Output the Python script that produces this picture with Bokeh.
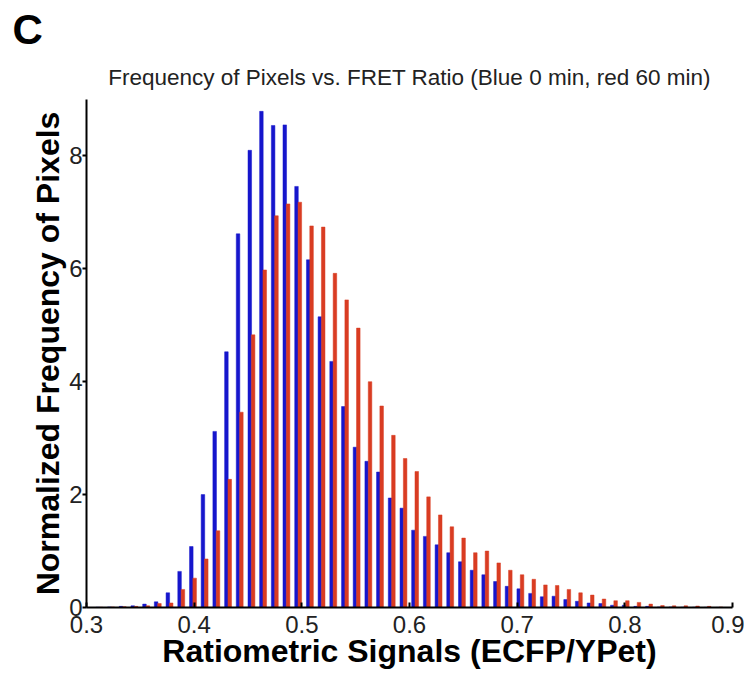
from bokeh.plotting import figure
from bokeh.models import Title, FixedTicker, NumeralTickFormatter
from bokeh.transform import dodge
from bokeh.embed import file_html
from bokeh.resources import INLINE
from bokeh.models import ColumnDataSource

# Bin centers (ECFP/YPet ratio)
bin_centers = [0.3119, 0.3228, 0.3336, 0.3445, 0.3554, 0.3662, 0.3771, 0.3880,
               0.3989, 0.4097, 0.4206, 0.4315, 0.4423, 0.4532, 0.4640, 0.4749,
               0.4857, 0.4966, 0.5075, 0.5183, 0.5292, 0.5401, 0.5509, 0.5618,
               0.5726, 0.5835, 0.5944, 0.6052, 0.6161, 0.6270, 0.6378, 0.6487,
               0.6596, 0.6704, 0.6813, 0.6921, 0.7030, 0.7139, 0.7247, 0.7356,
               0.7465, 0.7573, 0.7682, 0.7791, 0.7899, 0.8008, 0.8116, 0.8225,
               0.8334, 0.8442, 0.8551, 0.8660, 0.8768, 0.8877]

# Blue: 0 min
blue_0min = [0.005, 0.01, 0.02, 0.03, 0.06, 0.10, 0.26, 0.64,
             1.08, 2.00, 3.12, 4.53, 6.62, 8.10, 8.79, 8.54,
             8.55, 7.46, 6.16, 5.15, 4.36, 3.56, 2.84, 2.59,
             2.40, 1.94, 1.76, 1.37, 1.26, 1.11, 0.97, 0.81,
             0.66, 0.58, 0.46, 0.375, 0.33, 0.25, 0.19, 0.20,
             0.14, 0.11, 0.08, 0.07, 0.04, 0.04, 0.02, 0.02,
             0.01, 0.01, 0.005, 0.005, 0.003, 0.002]

# Red: 60 min
red_60min = [0.005, 0.01, 0.015, 0.02, 0.03, 0.07, 0.08, 0.32,
             0.52, 0.86, 1.36, 2.27, 3.46, 4.83, 5.98, 6.94,
             7.15, 7.18, 6.76, 6.74, 5.92, 5.45, 4.95, 4.00,
             3.57, 3.05, 2.64, 2.41, 1.96, 1.64, 1.43, 1.23,
             0.97, 1.00, 0.79, 0.66, 0.58, 0.50, 0.40, 0.39,
             0.32, 0.26, 0.22, 0.15, 0.12, 0.12, 0.09, 0.06,
             0.035, 0.03, 0.03, 0.025, 0.02, 0.01]

x_ticks = [0.3, 0.4, 0.5, 0.6, 0.7, 0.8, 0.9]
y_ticks = [0, 2, 4, 6, 8]

BLUE = "#1616cc"
RED = "#d93c22"
FONT = "Liberation Sans"

src = ColumnDataSource(dict(x=bin_centers, blue=blue_0min, red=red_60min))

p = figure(frame_width=646, frame_height=508,
           x_range=(0.3, 0.9), y_range=(0, 9),
           output_backend="svg", toolbar_location=None,
           min_border_left=86, min_border_right=12,
           min_border_top=99, min_border_bottom=5)

p.vbar(x=dodge('x', -0.00155), top='blue', width=0.0033, source=src,
       fill_color=BLUE, line_color=BLUE, line_width=0.5)
p.vbar(x=dodge('x', 0.00155), top='red', width=0.0033, source=src,
       fill_color=RED, line_color=RED, line_width=0.5)

# Outer title: panel letter
p.title.text = "C"
p.title.align = "left"
p.title.offset = -74
p.title.standoff = 0
p.title.text_font = FONT
p.title.text_font_size = "42px"
p.title.text_font_style = "bold"
p.title.text_color = "black"

# Inner title: chart title
main_title = Title(text="Frequency of Pixels vs. FRET Ratio (Blue 0 min, red 60 min)",
                   align="center", standoff=20, text_font=FONT,
                   text_font_size="22.5px", text_font_style="normal",
                   text_color="#222222")
p.add_layout(main_title, "above")

p.xgrid.visible = False
p.ygrid.visible = False
p.outline_line_color = None
p.background_fill_color = "white"
p.border_fill_color = "white"

xa = p.xaxis[0]
xa.ticker = FixedTicker(ticks=x_ticks)
xa.formatter = NumeralTickFormatter(format="0.0")
xa.major_tick_in = 5
xa.major_tick_out = 0
xa.minor_tick_line_color = None
xa.axis_line_width = 2
xa.major_tick_line_width = 2
xa.major_label_text_font = FONT
xa.major_label_text_font_size = "24px"
xa.major_label_text_color = "#222222"
xa.major_label_standoff = 8
xa.axis_label = "Ratiometric Signals (ECFP/YPet)"
xa.axis_label_text_font = FONT
xa.axis_label_text_font_size = "32px"
xa.axis_label_text_font_style = "bold"
xa.axis_label_text_color = "black"
xa.axis_label_standoff = -3

ya = p.yaxis[0]
ya.ticker = FixedTicker(ticks=y_ticks)
ya.major_tick_in = 0
ya.major_tick_out = 4
ya.minor_tick_line_color = None
ya.axis_line_width = 2
ya.major_tick_line_width = 2
ya.major_label_text_font = FONT
ya.major_label_text_font_size = "24px"
ya.major_label_text_color = "#222222"
ya.major_label_standoff = 0
ya.axis_label = "Normalized Frequency of Pixels"
ya.axis_label_text_font = FONT
ya.axis_label_text_font_size = "32px"
ya.axis_label_text_font_style = "bold"
ya.axis_label_text_color = "black"
ya.axis_label_standoff = 0

open("out.html", "w").write(file_html(p, INLINE))
